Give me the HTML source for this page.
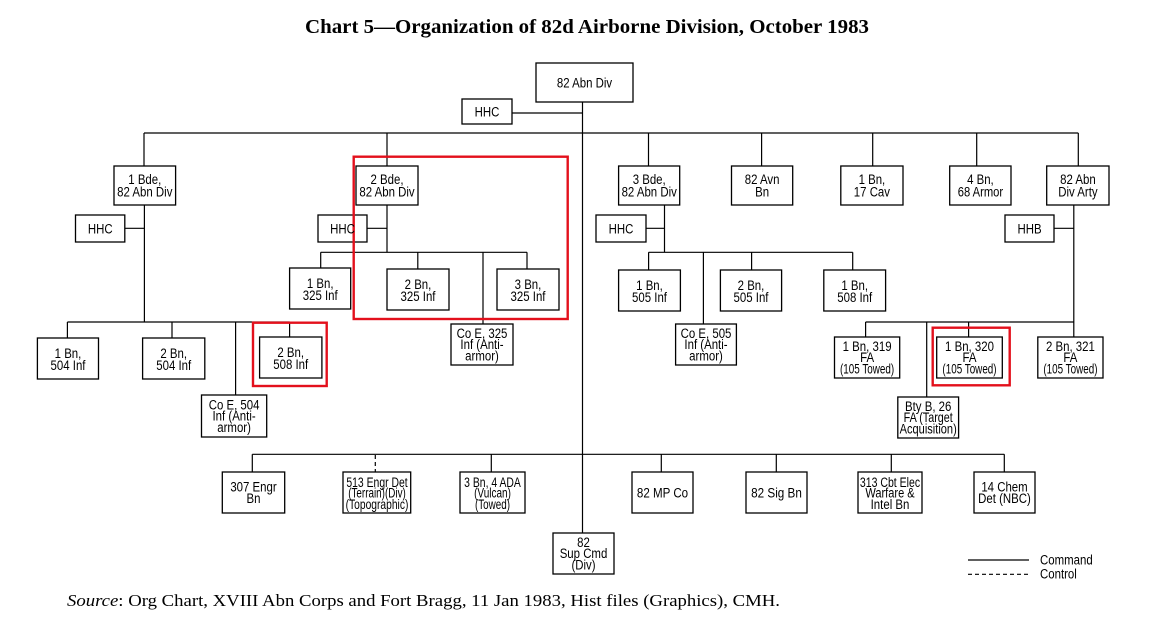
<!DOCTYPE html>
<html><head><meta charset="utf-8">
<style>
html,body{margin:0;padding:0;background:#fff;}
svg{display:block;}
.b{fill:#fff;stroke:#000;stroke-width:1.3;}
.l{stroke:#000;stroke-width:1.2;fill:none;}
.d{stroke:#000;stroke-width:1.2;fill:none;stroke-dasharray:4 3;}
.r{fill:none;stroke:#e3101c;stroke-width:2.4;}
.t text{font-family:"Liberation Sans",Arial,sans-serif;font-size:14px;text-anchor:middle;fill:#000;}
.lg text{font-family:"Liberation Sans",Arial,sans-serif;font-size:14px;fill:#000;}
</style></head>
<body>
<svg width="1156" height="624" viewBox="0 0 1156 624" xmlns="http://www.w3.org/2000/svg">
<rect width="1156" height="624" fill="#fff"/>
<text x="305" y="33" textLength="564" lengthAdjust="spacingAndGlyphs" font-family="'Liberation Serif',serif" font-weight="bold" font-size="20">Chart 5—Organization of 82d Airborne Division, October 1983</text>

<!-- lines -->
<g class="l">
<path d="M582.5 102V533"/>
<path d="M512 113H582.5"/>
<path d="M144 133H1078.3"/>
<path d="M144 133V166M387 133V166M648.5 133V166M761.6 133V166M872.7 133V166M976.7 133V166M1078.3 133V166"/>
<!-- 1 Bde -->
<path d="M144.4 205V322M124.8 228.3H144.4M67.4 322H289.6M67.4 322V338M172 322V338M235.6 322V395M289.6 322V337"/>
<!-- 2 Bde -->
<path d="M387 205V252.3M367 228.3H387M320.7 252.3H527M320.7 252.3V268M417.8 252.3V269M527 252.3V269M483 252.3V324"/>
<!-- 3 Bde -->
<path d="M664.5 205V252.3M646 228.3H664.5M648.6 252.3H852.7M648.6 252.3V270M751.6 252.3V270M852.7 252.3V270M703.4 252.3V324"/>
<!-- Arty -->
<path d="M1073.8 205V322M1054 228.3H1073.8M865.6 322H1073.8M865.6 322V337M968.6 322V337M1073.8 322V337M926.7 322V397"/>
<!-- bottom -->
<path d="M252.3 454.3H1004.3M252.3 454.3V472M491.3 454.3V472M661.3 454.3V472M776.3 454.3V472M891.3 454.3V472M1004.3 454.3V472"/>
</g>
<path class="d" d="M375.3 455V472"/>

<!-- boxes -->
<g class="b">
<rect x="536" y="63" width="97" height="39"/>
<rect x="462" y="99" width="50" height="25"/>
<rect x="114" y="166" width="61.6" height="39"/>
<rect x="356" y="166" width="62" height="39"/>
<rect x="618.6" y="166" width="61.1" height="39"/>
<rect x="731.5" y="166" width="61.2" height="39"/>
<rect x="840.8" y="166" width="62.2" height="39"/>
<rect x="949.7" y="166" width="61.3" height="39"/>
<rect x="1046.7" y="166" width="62.3" height="39"/>
<rect x="75.5" y="215" width="49.3" height="27"/>
<rect x="318" y="215" width="49" height="27"/>
<rect x="596" y="215" width="50" height="27"/>
<rect x="1005" y="215" width="49" height="27"/>
<rect x="37.4" y="338" width="61.1" height="41"/>
<rect x="142.6" y="338" width="62.2" height="41"/>
<rect x="201.5" y="395" width="65.2" height="42"/>
<rect x="259.6" y="337" width="62.3" height="41"/>
<rect x="289.6" y="268" width="61.1" height="41"/>
<rect x="387" y="269" width="62" height="41"/>
<rect x="497" y="269" width="62" height="41"/>
<rect x="451" y="324" width="62" height="41"/>
<rect x="618.6" y="270" width="61.8" height="41"/>
<rect x="720.4" y="270" width="61.2" height="41"/>
<rect x="823.8" y="270" width="61.8" height="41"/>
<rect x="675.6" y="324" width="60.8" height="41"/>
<rect x="834.5" y="337" width="65.2" height="41"/>
<rect x="936.7" y="337" width="65.6" height="41"/>
<rect x="1037.8" y="337" width="65.2" height="41"/>
<rect x="897.8" y="397" width="60.8" height="41"/>
<rect x="222.3" y="472" width="62.4" height="41"/>
<rect x="343" y="472" width="67.7" height="41"/>
<rect x="460" y="472" width="65" height="41"/>
<rect x="632" y="472" width="61" height="41"/>
<rect x="746" y="472" width="61" height="41"/>
<rect x="858" y="472" width="64" height="41"/>
<rect x="974" y="472" width="61" height="41"/>
<rect x="553" y="533" width="61" height="41"/>
</g>

<!-- red highlight -->
<rect class="r" x="353.7" y="156.7" width="214" height="162.3"/>
<rect class="r" x="253" y="322.7" width="73.7" height="63.3"/>
<rect class="r" x="932.7" y="327.7" width="77" height="57.6"/>

<!-- texts -->
<g class="t">
<text transform="translate(584.5 87.6) scale(.817 1)">82 Abn Div</text>
<text transform="translate(487 116.6) scale(.817 1)">HHC</text>

<text transform="translate(144.8 183.8) scale(.817 1)">1 Bde,</text>
<text transform="translate(144.8 196.3) scale(.817 1)">82 Abn Div</text>
<text transform="translate(387 183.8) scale(.817 1)">2 Bde,</text>
<text transform="translate(387 196.3) scale(.817 1)">82 Abn Div</text>
<text transform="translate(649.2 183.8) scale(.817 1)">3 Bde,</text>
<text transform="translate(649.2 196.3) scale(.817 1)">82 Abn Div</text>
<text transform="translate(762.1 183.8) scale(.817 1)">82 Avn</text>
<text transform="translate(762.1 196.3) scale(.817 1)">Bn</text>
<text transform="translate(871.9 183.8) scale(.817 1)">1 Bn,</text>
<text transform="translate(871.9 196.3) scale(.817 1)">17 Cav</text>
<text transform="translate(980.4 183.8) scale(.817 1)">4 Bn,</text>
<text transform="translate(980.4 196.3) scale(.8 1)">68 Armor</text>
<text transform="translate(1077.9 183.8) scale(.817 1)">82 Abn</text>
<text transform="translate(1077.9 196.3) scale(.817 1)">Div Arty</text>

<text transform="translate(100.2 233.3) scale(.817 1)">HHC</text>
<text transform="translate(342.5 233.3) scale(.817 1)">HHC</text>
<text transform="translate(621 233.3) scale(.817 1)">HHC</text>
<text transform="translate(1029.5 233.3) scale(.817 1)">HHB</text>

<text transform="translate(68 357.8) scale(.817 1)">1 Bn,</text>
<text transform="translate(68 369.8) scale(.817 1)">504 Inf</text>
<text transform="translate(173.7 357.8) scale(.817 1)">2 Bn,</text>
<text transform="translate(173.7 369.8) scale(.817 1)">504 Inf</text>
<text transform="translate(290.7 356.8) scale(.817 1)">2 Bn,</text>
<text transform="translate(290.7 368.8) scale(.817 1)">508 Inf</text>
<text transform="translate(234.1 409.3) scale(.817 1)">Co E, 504</text>
<text transform="translate(234.1 420.7) scale(.817 1)">Inf (Anti-</text>
<text transform="translate(234.1 431.9) scale(.817 1)">armor)</text>

<text transform="translate(320.2 287.8) scale(.817 1)">1 Bn,</text>
<text transform="translate(320.2 299.8) scale(.817 1)">325 Inf</text>
<text transform="translate(418 288.8) scale(.817 1)">2 Bn,</text>
<text transform="translate(418 300.8) scale(.817 1)">325 Inf</text>
<text transform="translate(528 288.8) scale(.817 1)">3 Bn,</text>
<text transform="translate(528 300.8) scale(.817 1)">325 Inf</text>
<text transform="translate(482 337.8) scale(.817 1)">Co E, 325</text>
<text transform="translate(482 349.2) scale(.817 1)">Inf (Anti-</text>
<text transform="translate(482 360.4) scale(.817 1)">armor)</text>

<text transform="translate(649.5 289.8) scale(.817 1)">1 Bn,</text>
<text transform="translate(649.5 301.8) scale(.817 1)">505 Inf</text>
<text transform="translate(751 289.8) scale(.817 1)">2 Bn,</text>
<text transform="translate(751 301.8) scale(.817 1)">505 Inf</text>
<text transform="translate(854.7 289.8) scale(.817 1)">1 Bn,</text>
<text transform="translate(854.7 301.8) scale(.817 1)">508 Inf</text>
<text transform="translate(706 337.8) scale(.817 1)">Co E, 505</text>
<text transform="translate(706 349.2) scale(.817 1)">Inf (Anti-</text>
<text transform="translate(706 360.4) scale(.817 1)">armor)</text>

<text transform="translate(867.1 350.8) scale(.817 1)">1 Bn, 319</text>
<text transform="translate(867.1 362.2) scale(.817 1)">FA</text>
<text transform="translate(867.1 373.4) scale(.706 1)">(105 Towed)</text>
<text transform="translate(969.5 350.8) scale(.817 1)">1 Bn, 320</text>
<text transform="translate(969.5 362.2) scale(.817 1)">FA</text>
<text transform="translate(969.5 373.4) scale(.706 1)">(105 Towed)</text>
<text transform="translate(1070.4 350.8) scale(.817 1)">2 Bn, 321</text>
<text transform="translate(1070.4 362.2) scale(.817 1)">FA</text>
<text transform="translate(1070.4 373.4) scale(.706 1)">(105 Towed)</text>
<text transform="translate(928.2 410.8) scale(.817 1)">Bty B, 26</text>
<text transform="translate(928.2 422.2) scale(.771 1)">FA (Target</text>
<text transform="translate(928.2 433.4) scale(.79 1)">Acquisition)</text>

<text transform="translate(253.5 491.6) scale(.817 1)">307 Engr</text>
<text transform="translate(253.5 503.2) scale(.817 1)">Bn</text>
<text transform="translate(377 486.9) scale(.743 1)">513 Engr Det</text>
<text transform="translate(377 497.6) scale(.706 1)">(Terrain)(Div)</text>
<text transform="translate(377 509.2) scale(.734 1)">(Topographic)</text>
<text transform="translate(492.5 486.9) scale(.743 1)">3 Bn, 4 ADA</text>
<text transform="translate(492.5 497.6) scale(.715 1)">(Vulcan)</text>
<text transform="translate(492.5 509.2) scale(.706 1)">(Towed)</text>
<text transform="translate(662.5 497.4) scale(.827 1)">82 MP Co</text>
<text transform="translate(776.5 497.4) scale(.836 1)">82 Sig Bn</text>
<text transform="translate(890 486.9) scale(.752 1)">313 Cbt Elec</text>
<text transform="translate(890 497.6) scale(.79 1)">Warfare &amp;</text>
<text transform="translate(890 509.2) scale(.817 1)">Intel Bn</text>
<text transform="translate(1004.5 491.6) scale(.817 1)">14 Chem</text>
<text transform="translate(1004.5 503.2) scale(.817 1)">Det (NBC)</text>
<text transform="translate(583.5 546.8) scale(.817 1)">82</text>
<text transform="translate(583.5 558.2) scale(.817 1)">Sup Cmd</text>
<text transform="translate(583.5 569.4) scale(.817 1)">(Div)</text>
</g>

<!-- legend -->
<path class="l" d="M968 560H1029"/>
<path class="d" d="M968 574.3H1029"/>
<g class="lg">
<text transform="translate(1040 564.3) scale(.817 1)">Command</text>
<text transform="translate(1040 578.3) scale(.817 1)">Control</text>
</g>

<!-- source -->
<text x="67" y="606" textLength="713" lengthAdjust="spacingAndGlyphs" font-family="'Liberation Serif',serif" font-size="17" fill="#000"><tspan font-style="italic">Source</tspan>: Org Chart, XVIII Abn Corps and Fort Bragg, 11 Jan 1983, Hist files (Graphics), CMH.</text>
</svg>
</body></html>
